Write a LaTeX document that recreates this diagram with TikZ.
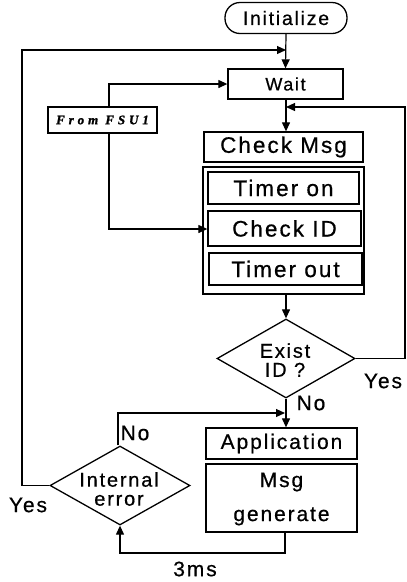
\documentclass[tikz,border=0pt]{standalone}
\usepackage{fontspec}
\usetikzlibrary{shapes.geometric,arrows.meta}
\newfontfamily\lblfont{Liberation Sans}[LetterSpace=9,FakeBold=0.6]
\newfontfamily\fsufont{Liberation Serif}[LetterSpace=30,FakeBold=1.5]
\newcommand\fs[2]{\lblfont\fontsize{#1}{#2}\selectfont}
\begin{document}
\begin{tikzpicture}[x=1pt,y=-1pt,
  every node/.style={font=\fs{21}{23},inner sep=0pt},
  box/.style={draw,line width=1.3pt,minimum width=#1},
  big/.style={font=\fs{22.5}{24}},
  diam/.style={draw,diamond,line width=1.3pt,minimum width=140pt,minimum height=79pt},
  conn/.style={line width=1.2pt},
  arr/.style={conn,-{Triangle[length=9pt,width=8pt]}},
  txt/.style={align=center}]
\useasboundingbox (0,0) rectangle (407,582);

% process boxes
\node[draw,line width=1.3pt,rounded corners=15pt,minimum width=122pt,minimum height=31pt,font=\fs{19.5}{22}] (init) at (286,18) {Initialize};
\node[box=115pt,minimum height=30pt,font=\fs{18}{20}] (wait) at (285.5,84) {Wait};
\node[box=109pt,minimum height=26pt,font=\fsufont\bfseries\itshape\fontsize{13}{13}\selectfont] (fsu) at (102.5,120) {From FSU1};
\node[box=159pt,minimum height=30pt,big] (chk) at (283.5,147) {Check Msg};
\node[box=161pt,minimum height=127pt] (cont) at (283.5,230.5) {};
\node[box=151pt,minimum height=32pt,big] (ton) at (283.5,188) {Timer on};
\node[box=153pt,minimum height=35pt,big] (cid) at (284.5,228.5) {Check ID};
\node[box=153pt,minimum height=32pt,big] (tout) at (285.5,269) {Timer out};
\node[diam,minimum width=138pt] (exist) at (286,358.5) {};
\node[txt,font=\fs{20}{19}] (existtxt) at (285,360) {Exist\\ID ?};
\node[box=151pt,minimum height=31pt] (app) at (281.5,443.5) {Application};
\node[box=151pt,minimum height=68pt] (msg) at (281.5,498) {};
\node[txt,font=\fs{21}{34}] (msgtxt) at (281.5,499) {Msg\\generate};
\node[diam] (ierr) at (120,485.5) {};
\node[txt,font=\fs{20}{19}] (ierrtxt) at (119,489) {Internal\\error};

% labels on the branches
\node (lyes1) at (383,381) {Yes};
\node (lno1) at (311,403) {No};
\node (lno2) at (135,433) {No};
\node (lyes2) at (28,505) {Yes};
\node (l3ms) at (195,569) {3ms};

% bend points
\coordinate (loopL) at (22,50);
\coordinate (loopJ) at (286,50);
\coordinate (fsuUp) at (109,84);
\coordinate (fsuDn) at (109,229);
\coordinate (backR) at (405,107);
\coordinate (backJ) at (286,107);
\coordinate (noUp) at (118,413);
\coordinate (noJ) at (285,413);
\coordinate (msgDn) at (285,553);

% connectors
\draw[arr] (init.south) -- (wait.north);
\draw[arr] (ierr.west) -- (loopL |- ierr.west) -- (loopL) -- (loopJ);
\draw[arr] (fsu.north -| fsuUp) -- (fsuUp) -- (wait.west);
\draw[arr] (fsu.south -| fsuDn) -- (fsuDn) -- (cid.west |- fsuDn);
\draw[arr] (wait.south -| backJ) -- (chk.north -| backJ);
\draw[arr] (exist.east) -- (backR |- exist.east) -- (backR) -- (backJ);
\draw[arr] (cont.south -| exist.north) -- (exist.north);
\draw[arr] (exist.south) -- (app.north -| exist.south);
\draw[arr] (ierr.north -| noUp) -- (noUp) -- (noJ);
\draw[arr] (msg.south -| msgDn) -- (msgDn) -- (msgDn -| ierr.south) -- (ierr.south);
\end{tikzpicture}
\end{document}
